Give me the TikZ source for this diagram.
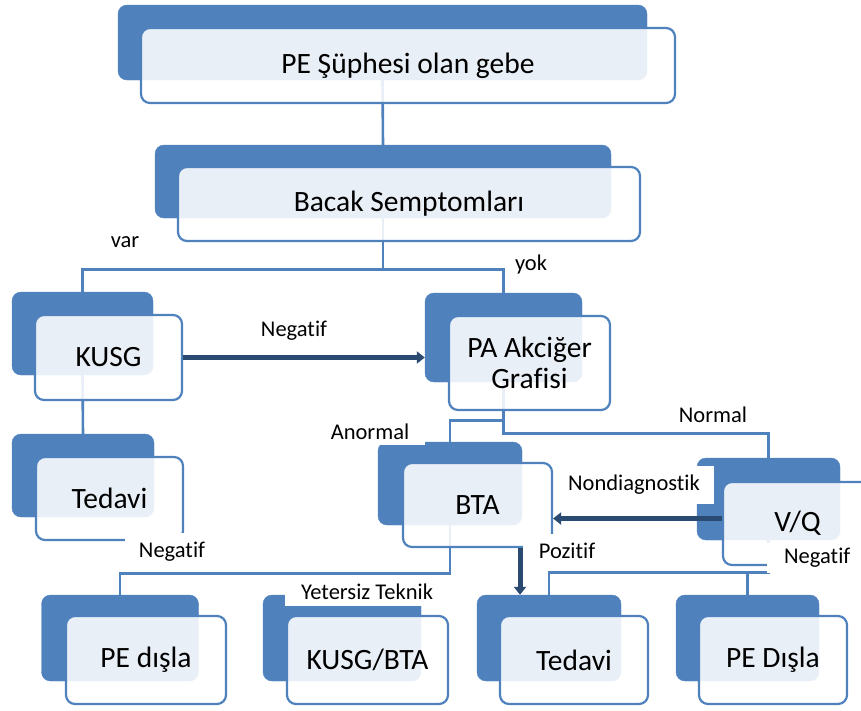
\documentclass[tikz,border=0pt]{standalone}
\usepackage{fontspec}
\setmainfont{Carlito}[Ligatures=NoCommon]
\usepackage{xcolor}
\usetikzlibrary{arrows.meta,positioning,calc}
\definecolor{midblue}{HTML}{4F81BD}
\definecolor{navy}{HTML}{2A4A72}
\pgfdeclarelayer{background}
\pgfsetlayers{background,main}

\begin{document}
\begin{tikzpicture}[x=1pt,y=-1pt, back/.style={draw=midblue,fill=midblue,rounded corners=9pt,inner sep=0pt}, front/.style={draw=midblue,line width=2.2pt,fill=white,fill opacity=0.88,text opacity=1,rounded corners=9pt,inner sep=0pt,align=center,font=\fontsize{29.5}{31}\selectfont}, link/.style={draw=midblue,line width=2.6pt}, arr/.style={-{Triangle[length=8pt,width=12pt]},draw=navy,line width=5pt}, lbl/.style={font=\fontsize{22.5}{24}\selectfont,inner sep=1pt}, cover/.style={lbl,fill=white}]
\useasboundingbox (0,0) rectangle (861,710);
\node[back,minimum width=529pt,minimum height=75pt] (topB) at (382.5,42.5) {};
\node[front,minimum width=534pt,minimum height=75pt] (topF) at (408,65.5) {PE Şüphesi olan gebe};
\node[back,minimum width=456pt,minimum height=73pt] (legB) at (383,181.5) {};
\node[front,minimum width=462pt,minimum height=74pt] (legF) at (409,204) {Bacak Semptomları};
\node[back,minimum width=141pt,minimum height=83pt] (kusgB) at (82.5,333.5) {};
\node[front,minimum width=147pt,minimum height=85pt] (kusgF) at (108.5,357.5) {KUSG};
\node[back,minimum width=157pt,minimum height=89pt] (paB) at (503.5,337.5) {};
\node[front,minimum width=161pt,minimum height=94pt] (paF) at (529.5,363) {PA Akciğer\\Grafisi};
\node[back,minimum width=142pt,minimum height=83pt] (tedA) at (83,475.5) {};
\node[front,minimum width=147pt,minimum height=83pt] (tedAF) at (109.5,498.5) {Tedavi};
\node[back,minimum width=144pt,minimum height=83pt] (btaB) at (450,483.5) {};
\node[front,minimum width=149pt,minimum height=84pt] (btaF) at (477.5,505) {BTA};
\node[back,minimum width=143pt,minimum height=82pt] (vqB) at (768.5,499) {};
\node[front,minimum width=149pt,minimum height=83pt] (vqF) at (797.5,523.5) {V/Q};
\node[back,minimum width=157pt,minimum height=86pt] (pedB) at (120,638) {};
\node[front,minimum width=160pt,minimum height=88pt] (pedF) at (146,660) {PE dışla};
\node[back,minimum width=158pt,minimum height=86pt] (kbB) at (342,638) {};
\node[front,minimum width=161pt,minimum height=88pt] (kbF) at (367.5,660) {KUSG/BTA};
\node[back,minimum width=144pt,minimum height=86pt] (tedB) at (549,638) {};
\node[front,minimum width=148pt,minimum height=88pt] (tedBF) at (574,660) {Tedavi};
\node[back,minimum width=143pt,minimum height=86pt] (pexB) at (747.5,638) {};
\node[front,minimum width=148pt,minimum height=88pt] (pexF) at (773,660) {PE Dışla};
\begin{pgfonlayer}{background}
\draw[link] (topB.south) -- (legB.north);
\draw[link] (legB.south) -- ++(0,51) -| (kusgB.north);
\draw[link] (legB.south) -- ++(0,51) -| (paB.north);
\draw[link] (kusgB.south) -- (tedA.north);
\draw[link] (paB.south) -- ++(0,38) -| (btaB.north);
\draw[link] (paB.south) -- ++(0,51) -| (vqB.north);
\draw[link] (btaB.south) -- ++(0,48) -| (pedB.north);
\draw[link] (vqB.south) -- ++(0,32) -| (tedB.north);
\draw[link] (vqB.south) ++(0,32) -| (pexB.north);
\end{pgfonlayer}
\node[lbl] (var) at (125,242) {var};
\node[lbl] (yok) at (531,264) {yok};
\node[lbl] (kneg) at (294,331) {Negatif};
\node[cover,inner xsep=16pt,inner ysep=5pt] (anor) at (370,432) {Anormal};
\node[lbl] (norm) at (713,415) {Normal};
\node[cover,inner xsep=14pt,inner ysep=9pt] (nondiag) at (634,485) {Nondiagnostik};
\node[cover,inner xsep=14pt,inner ysep=9pt] (bneg) at (172,552) {Negatif};
\node[cover,inner xsep=16pt,inner ysep=9pt] (poz) at (567,551) {Pozitif};
\node[cover,inner xsep=16pt,inner ysep=6pt] (yet) at (367,592) {Yetersiz Teknik};
\node[cover,inner xsep=17pt,inner ysep=5pt,anchor=north west] (vneg) at (767,543) {Negatif};
\coordinate (ndStart) at ($(vqF.west)+(0,-5)$);
\coordinate (pzStart) at ($(btaF.south)+(42.5,0)$);
\draw[arr] (kusgF.east) -- (kusgF.east -| paB.west);
\draw[arr] (ndStart) -- (ndStart -| btaF.east);
\draw[arr] (pzStart) -- (pzStart |- tedB.north);
\end{tikzpicture}
\end{document}
